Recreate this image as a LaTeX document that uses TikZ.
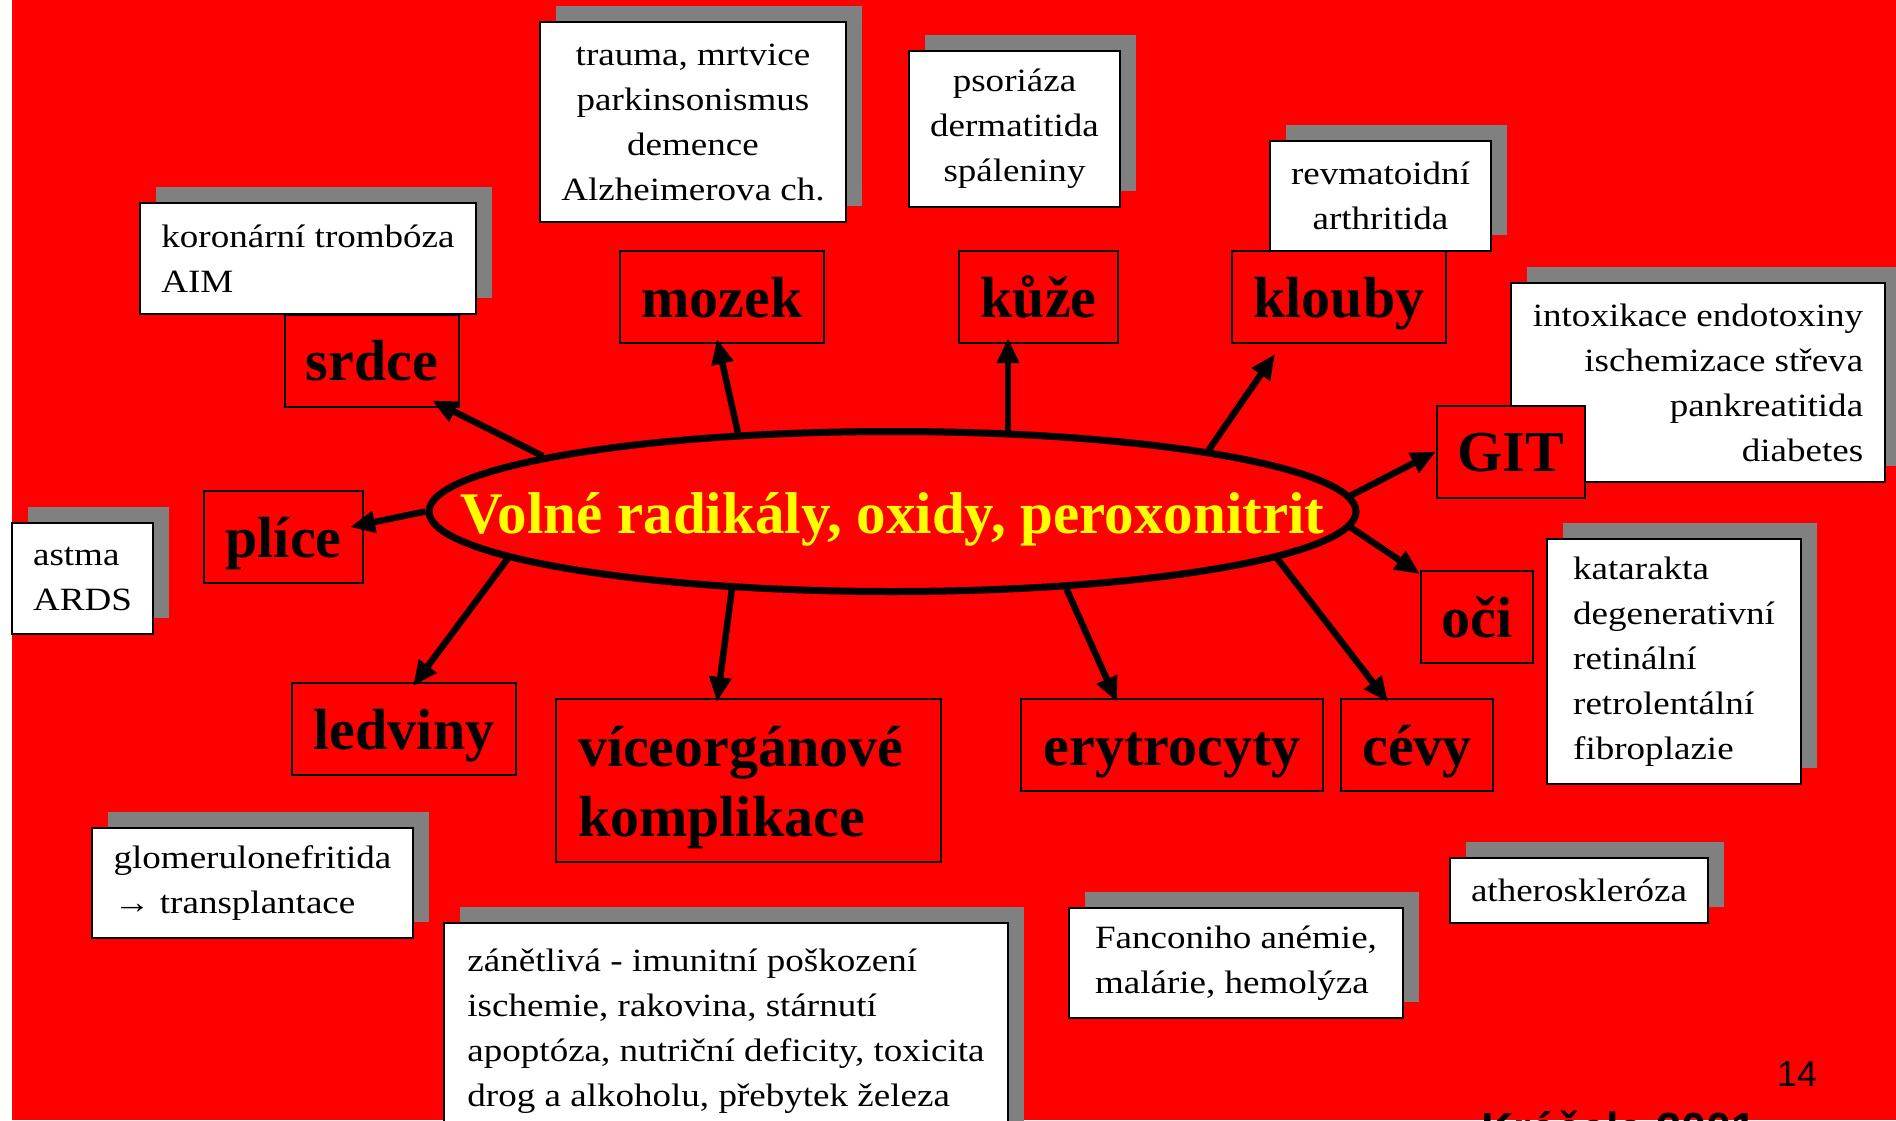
\documentclass[tikz,border=0pt]{standalone}
\usepackage{fontspec}
\setmainfont{Liberation Serif}
\newfontfamily\notefont{Liberation Serif}[FakeStretch=1.14]
\newfontfamily\slidesans{Liberation Sans}
\usepackage{tikz}
\usetikzlibrary{arrows.meta,shapes.geometric,shadows}
\definecolor{slidered}{RGB}{255,0,0}
\definecolor{shadowgray}{RGB}{128,128,128}
\definecolor{titleyellow}{RGB}{255,255,0}

\begin{document}
\begin{tikzpicture}[
  x=1pt, y=-1pt,
  every node/.style={inner sep=0pt},
  organbox/.style={draw,line width=2pt,fill=slidered,minimum height=92pt,
    font=\fontsize{58}{70}\selectfont\bfseries},
  organ/.style={organbox,text height=40pt,text depth=0pt},
  note/.style={draw,line width=2pt,fill=white,inner xsep=20pt,inner ysep=4pt,
    font=\notefont\fontsize{32.5}{45}\selectfont,
    drop shadow={shadow xshift=16pt,shadow yshift=16pt,fill=shadowgray,opacity=1}},
  hub/.style={ellipse,draw,line width=7pt,fill=slidered,minimum width=927pt,minimum height=160pt},
  arr/.style={-{Triangle[length=25pt,width=21pt]},line width=6.5pt}
]
\fill[white] (0,0) rectangle (1896,1120);
\fill[slidered] (12,0) rectangle (1896,1120);
\useasboundingbox (0,0) rectangle (1896,1120);

% notes
\node[note, minimum width=336pt, minimum height=111pt, align=left]   (srdcenote)   at (308,258.5)  {koronární trombóza\\AIM};
\node[note, minimum width=306pt, minimum height=200pt, align=center] (mozeknote)   at (693,122)    {trauma, mrtvice\\parkinsonismus\\demence\\Alzheimerova ch.};
\node[note, minimum width=211pt, minimum height=156pt, align=center] (kuzenote)    at (1014.5,129) {psoriáza\\dermatitida\\spáleniny};
\node[note, minimum width=221pt, minimum height=110pt, align=center] (kloubynote)  at (1380.5,196) {revmatoidní\\arthritida};
\node[note, minimum width=374pt, minimum height=199pt, align=right]  (gitnote)     at (1698,382.5) {intoxikace endotoxiny\\ischemizace střeva\\pankreatitida\\diabetes};
\node[note, minimum width=141pt, minimum height=111pt, align=left]   (plicenote)   at (82.5,578.5) {astma\\ARDS};
\node[note, minimum width=254pt, minimum height=245pt, align=left]   (ocinote)     at (1674,661.5) {katarakta\\degenerativní\\retinální\\retrolentální\\fibroplazie};
\node[note, minimum width=321pt, minimum height=110pt, align=left]   (ledvinynote) at (252.5,883)  {glomerulonefritida\\→ transplantace};
\node[note, minimum width=564pt, minimum height=217pt, align=left]   (vicenote)    at (726,1031.5) {zánětlivá - imunitní poškození\\ischemie, rakovina, stárnutí\\apoptóza, nutriční deficity, toxicita\\drog a alkoholu, přebytek železa};
\node[note, minimum width=334pt, minimum height=110pt, align=left]   (erytnote)    at (1236,963)   {Fanconiho anémie,\\malárie, hemolýza};
\node[note, minimum width=258pt, minimum height=65pt, align=left]    (cevynote)    at (1579,890.5) {atheroskleróza};

% organs
\node[organ, minimum width=174pt] (srdce)   at (372,360.5)  {srdce};
\node[organ, minimum width=204pt] (mozek)   at (722,297)    {mozek};
\node[organ, minimum width=159pt] (kuze)    at (1038.5,297) {kůže};
\node[organ, minimum width=214pt] (klouby)  at (1339,297)   {klouby};
\node[organ, minimum width=148pt] (git)     at (1511,451.5) {GIT};
\node[organ, minimum width=159pt] (plice)   at (283.5,537)  {plíce};
\node[organ, minimum width=112pt] (oci)     at (1477,617)   {oči};
\node[organ, minimum width=152pt] (cevy)    at (1417,745)   {cévy};
\node[organ, minimum width=302pt] (eryt)    at (1172,745)   {erytrocyty};
\node[organ, minimum width=224pt] (ledviny) at (404,729)    {ledviny};
\node[organbox, minimum width=385pt, minimum height=163pt, text width=341pt, align=left] (vice) at (748.5,780.5) {\rule{0pt}{55pt}víceorgánové\\komplikace};

% centre
\node[hub] (hub) at (892.5,511.5) {};
\node[font=\fontsize{59}{70}\selectfont\bfseries, text=titleyellow, anchor=base] (hubtext)
  at ([yshift=-21.5pt]hub.center) {Volné radikály, oxidy, peroxonitrit};

\draw[arr] (hub.171.9) -- ([xshift=60pt,yshift=7pt]srdce.south);
\draw[arr] (hub.153.4) -- ([xshift=-5pt,yshift=5pt]mozek.south);
\draw[arr, shorten >=-6pt] (hub.35.5) -- (hub.35.5 |- kuze.south);
\draw[arr] (hub.11.9)  -- ([xshift=-64pt,yshift=-10pt]klouby.south);
\draw[arr] (hub.2.7)   -- (git.west);
\draw[arr] (hub.180)   -- ([xshift=-14pt,yshift=10pt]plice.east);
\draw[arr] (hub.-2)    -- ([yshift=-4pt]oci.north west);
\draw[arr] (hub.-7.1)  -- ([xshift=-29pt,yshift=-4pt]cevy.north);
\draw[arr] (hub.-24.6) -- ([xshift=-55pt,yshift=-4pt]eryt.north);
\draw[arr] (hub.206.8) -- ([xshift=-31.5pt,yshift=-4pt]vice.north);
\draw[arr] (hub.187.9) -- ([xshift=9pt,yshift=-4pt]ledviny.north);

\node[font=\slidesans\fontsize{36}{40}\selectfont, anchor=base west] (pagenum) at (1777,1086) {14};
\node[font=\slidesans\fontsize{45}{50}\selectfont\bfseries, anchor=base west] (author) at (1481,1144) {Kráčala 2001};
\end{tikzpicture}
\end{document}
